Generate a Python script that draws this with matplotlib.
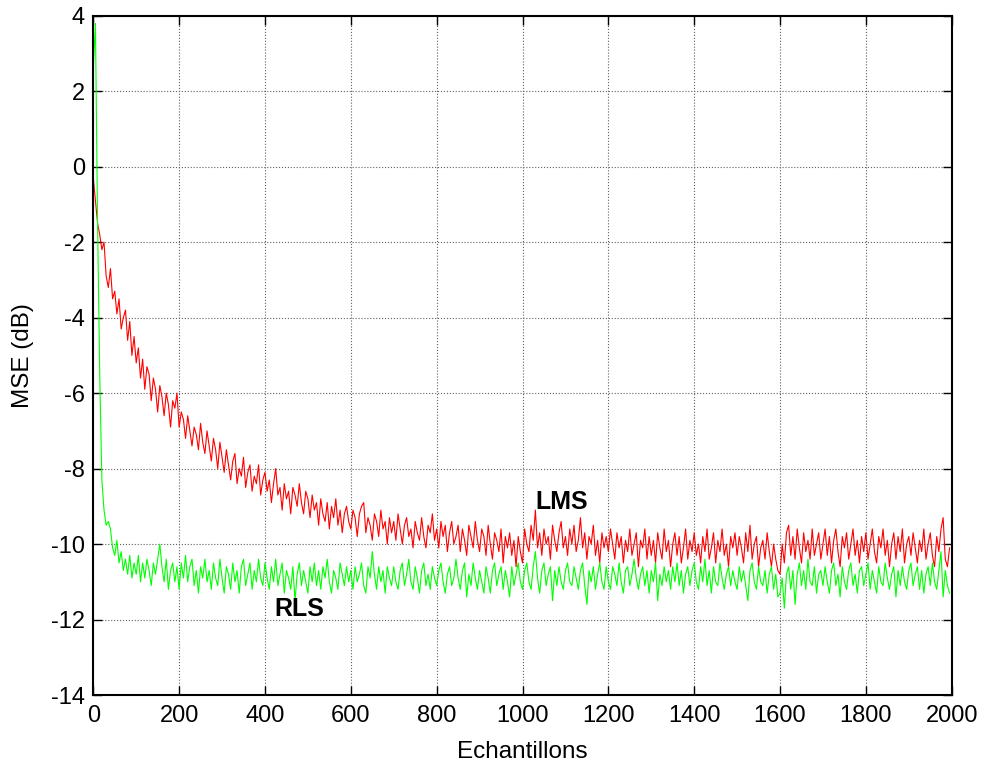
import matplotlib
matplotlib.use("Agg")
import matplotlib.pyplot as plt
import numpy as np


# MSE (dB), one value every 5 samples
SAMPLE_STEP = 5

LMS_DB = [
    -0.3, -0.9, -1.5, -1.8, -2.2, -2.0, -2.9, -3.2, -2.7, -3.5, -3.3, -3.9, -3.5, -4.3, -4.0, -3.8, -4.6, -4.1, -5.0, -4.5,
    -5.2, -4.8, -5.6, -5.1, -5.9, -5.3, -5.5, -6.2, -5.6, -5.9, -6.5, -5.8, -6.1, -6.6, -6.0, -6.3, -6.9, -6.2, -6.4, -6.0,
    -6.9, -6.5, -6.7, -7.2, -6.6, -7.0, -7.4, -6.9, -7.1, -7.5, -6.8, -7.3, -7.6, -7.0, -7.4, -7.8, -7.2, -7.5, -8.0, -7.3,
    -7.7, -8.1, -7.5, -7.9, -8.3, -7.8, -7.6, -8.4, -8.0, -8.2, -7.7, -8.5, -8.1, -7.9, -8.6, -8.2, -8.4, -7.9, -8.7, -8.3,
    -8.1, -8.6, -8.3, -8.9, -8.4, -8.0, -8.7, -8.5, -9.1, -8.4, -8.8, -8.6, -9.2, -8.5, -8.7, -9.0, -8.4, -8.9, -9.2, -8.6,
    -8.8, -9.3, -8.7, -9.1, -8.9, -9.5, -8.8, -9.2, -9.4, -8.9, -9.6, -9.0, -9.3, -8.8, -9.5, -9.1, -9.7, -9.2, -9.0, -9.4,
    -9.6, -9.1, -9.3, -9.8, -9.2, -9.0, -8.9, -9.7, -9.3, -9.5, -9.9, -9.2, -9.4, -9.8, -9.1, -9.6, -9.4, -10.0, -9.3, -9.7,
    -9.4, -9.9, -9.2, -9.6, -10.0, -9.5, -9.3, -9.8, -9.6, -10.1, -9.4, -9.7, -9.9, -9.3, -9.8, -10.1, -9.5, -9.7, -9.2, -9.9,
    -9.6, -10.1, -9.4, -9.8, -9.5, -10.2, -9.7, -9.4, -10.0, -9.8, -9.5, -10.2, -9.6, -9.9, -10.3, -9.5, -9.8, -10.1, -9.4, -9.9,
    -10.2, -9.6, -9.8, -10.3, -9.5, -10.0, -10.4, -9.7, -9.9, -10.2, -9.6, -10.5, -9.8, -10.1, -9.7, -10.3, -9.9, -10.6, -9.8, -10.2,
    -10.5, -9.6, -10.0, -10.2, -9.5, -9.9, -9.1, -10.1, -9.7, -10.3, -9.6, -10.0, -9.8, -10.4, -9.5, -9.9, -10.2, -9.7, -9.4, -10.1,
    -9.8, -10.3, -9.6, -10.0, -9.5, -10.2, -9.9, -9.3, -10.1, -9.7, -10.4, -9.8, -10.0, -9.5, -10.3, -9.9, -10.5, -9.7, -10.1, -9.8,
    -10.2, -9.6, -10.0, -10.4, -9.7, -10.1, -9.8, -10.5, -9.9, -10.2, -9.6, -10.3, -10.0, -9.7, -10.6, -9.9, -10.1, -9.6, -10.4, -9.8,
    -10.3, -9.9, -10.5, -9.7, -10.1, -10.4, -9.6, -10.2, -9.9, -10.6, -10.0, -9.7, -10.3, -9.8, -10.5, -10.1, -9.6, -10.4, -9.9, -10.2,
    -9.7, -10.3, -10.0, -10.5, -9.8, -10.2, -9.6, -10.4, -10.1, -9.7, -10.5, -9.9, -10.2, -9.6, -10.3, -10.0, -10.6, -9.8, -10.1, -9.7,
    -10.3, -9.8, -10.1, -10.5, -9.7, -10.2, -9.5, -10.4, -10.0, -9.8, -10.6, -10.1, -9.9, -10.4, -9.7, -10.2, -10.6, -10.0, -10.4, -10.7,
    -10.8, -10.0, -10.5, -9.7, -9.5, -10.3, -9.8, -10.4, -9.6, -10.1, -10.5, -9.7, -10.2, -9.9, -10.4, -9.6, -10.3, -10.0, -9.7, -10.4,
    -10.0, -9.6, -10.3, -9.8, -10.5, -9.9, -9.6, -10.2, -10.6, -9.8, -10.1, -9.7, -10.4, -10.0, -9.6, -10.3, -9.9, -10.5, -9.8, -10.2,
    -9.7, -10.4, -10.0, -9.6, -10.2, -10.5, -9.8, -10.1, -9.6, -10.3, -9.9, -10.6, -10.0, -9.7, -10.4, -9.8, -10.2, -9.6, -10.5, -10.0,
    -9.8, -10.3, -9.7, -10.1, -10.5, -9.9, -10.2, -9.6, -10.4, -10.0, -9.7, -10.3, -10.6, -9.8, -10.2, -9.6, -9.3, -10.4, -10.6, -10.1,
]

RLS_DB = [
    2.6, 3.8, -1.5, -5.5, -8.3, -9.1, -9.5, -9.4, -9.6, -10.1, -10.3, -9.9, -10.5, -10.2, -10.7, -10.4, -10.8, -10.3, -10.9, -10.5,
    -10.8, -10.3, -11.0, -10.5, -10.9, -10.4, -10.7, -11.1, -10.5, -10.8, -10.4, -10.0, -10.6, -11.0, -10.4, -11.2, -10.7, -10.5, -11.0, -10.6,
    -11.2, -10.5, -10.9, -10.3, -11.0, -10.6, -10.4, -11.1, -10.7, -11.3, -10.6, -10.9, -10.4, -11.0, -10.7, -11.2, -10.5, -10.9, -11.1, -10.4,
    -10.9, -11.3, -10.6, -10.8, -11.2, -10.5, -11.0, -10.7, -11.3, -10.6, -10.4, -11.1, -10.8, -10.5, -11.2, -10.7, -11.0, -10.4, -10.9, -11.1,
    -10.5, -10.9, -11.2, -10.6, -11.0, -10.4, -11.1, -10.8, -10.5, -11.3, -10.7, -10.9, -11.2, -10.6, -11.5, -10.8, -10.5, -11.1, -10.7, -11.0,
    -11.3, -10.6, -11.0, -10.5, -11.1, -10.7, -11.2, -10.6, -10.9, -10.4, -11.0, -11.3, -10.7, -10.9, -11.2, -10.5, -10.8, -11.1, -10.6, -11.0,
    -10.7, -11.2, -10.6, -11.0, -10.8, -10.5, -11.1, -11.3, -10.6, -10.9, -10.2, -10.8, -11.2, -10.6, -11.0, -10.7, -11.3, -10.6, -10.9, -11.1,
    -10.6, -11.0, -11.2, -10.7, -10.5, -11.1, -10.8, -10.4, -11.0, -11.2, -10.6, -10.9, -11.3, -10.7, -10.5, -11.1, -10.8, -11.2, -10.6, -10.9,
    -11.1, -10.7, -10.5, -11.0, -11.3, -10.8, -10.6, -11.1, -10.9, -10.4, -10.9, -11.2, -10.7, -10.5, -11.4, -10.8, -11.1, -10.5, -10.9, -11.2,
    -10.7, -11.0, -11.3, -10.6, -10.9, -11.3, -10.7, -10.5, -11.1, -10.8, -10.6, -11.2, -10.7, -11.0, -11.4, -10.6, -11.1, -10.8, -10.5, -11.0,
    -11.2, -10.7, -10.5, -11.0, -11.2, -10.6, -10.2, -10.9, -11.3, -10.7, -10.5, -11.1, -10.8, -10.6, -11.5, -10.7, -11.1, -10.6, -11.0, -11.2,
    -10.7, -10.5, -11.0, -11.1, -10.6, -10.9, -11.2, -10.7, -10.5, -11.1, -11.6, -10.7, -11.0, -10.6, -11.2, -10.8, -10.5, -11.0, -11.2, -10.6,
    -11.0, -11.2, -10.6, -10.8, -11.1, -10.5, -11.0, -11.3, -10.7, -10.6, -11.1, -10.8, -10.4, -10.9, -11.2, -10.8, -10.6, -11.1, -10.7, -11.3,
    -10.7, -11.0, -10.5, -11.5, -10.8, -11.1, -10.6, -11.0, -10.7, -11.2, -10.6, -11.0, -10.5, -11.1, -10.7, -11.3, -10.8, -10.6, -11.1, -10.7,
    -10.5, -11.0, -11.2, -10.6, -11.0, -10.4, -11.1, -10.7, -11.3, -10.6, -11.0, -11.1, -10.5, -10.9, -11.2, -10.8, -10.6, -11.1, -10.7, -11.0,
    -11.2, -10.6, -11.0, -10.7, -11.1, -11.5, -10.7, -10.5, -11.0, -11.2, -10.6, -11.0, -11.1, -10.7, -11.3, -10.8, -10.6, -11.2, -10.8, -11.4,
    -11.3, -10.9, -11.7, -10.8, -10.6, -11.2, -10.7, -11.6, -10.8, -10.5, -11.1, -10.7, -11.2, -10.4, -11.0, -11.1, -10.6, -11.3, -10.8, -10.7,
    -11.1, -10.6, -11.0, -11.3, -10.7, -10.5, -11.1, -10.8, -11.4, -10.6, -11.0, -11.2, -10.7, -10.5, -11.1, -10.8, -11.3, -10.7, -10.6, -11.1,
    -10.8, -10.5, -11.2, -10.7, -11.0, -11.3, -10.6, -11.0, -11.1, -10.5, -10.9, -11.2, -10.8, -10.6, -11.4, -10.7, -11.1, -10.6, -11.0, -11.2,
    -10.7, -10.5, -11.1, -10.8, -10.6, -11.2, -10.7, -11.3, -10.8, -10.6, -11.1, -10.5, -11.0, -11.2, -10.7, -10.2, -11.4, -10.7, -11.1, -11.3,
]

X_TICKS = [0, 200, 400, 600, 800, 1000, 1200, 1400, 1600, 1800, 2000]
Y_TICKS = [-14, -12, -10, -8, -6, -4, -2, 0, 2, 4]

plt.rcParams["font.family"] = ["Liberation Sans", "DejaVu Sans"]
plt.rcParams["axes.unicode_minus"] = False

fig = plt.figure(figsize=(9.84, 7.69), dpi=100)
ax = fig.add_axes([0.0948, 0.0962, 0.8724, 0.8833])

samples = np.arange(len(LMS_DB)) * SAMPLE_STEP
ax.plot(samples, LMS_DB, color="#ff0000", lw=0.8)
ax.plot(samples, RLS_DB, color="#00ff00", lw=0.8)

ax.text(1092, -8.89, "LMS", fontsize=18, fontweight="bold", ha="center", va="center")
ax.text(479, -11.72, "RLS", fontsize=18, fontweight="bold", ha="center", va="center")

ax.set_xlim(0, 2000)
ax.set_ylim(-14, 4)
ax.set_xticks(X_TICKS)
ax.set_yticks(Y_TICKS)
ax.grid(True, ls=":", color="#606060", lw=0.8)
ax.tick_params(direction="in", length=6.5, width=1, top=True, right=True, labelsize=17)
ax.tick_params(axis="x", pad=7)
ax.tick_params(axis="y", pad=6)
for spine in ax.spines.values():
    spine.set_linewidth(1.5)

ax.set_xlabel("Echantillons", fontsize=17.5, labelpad=10)
ax.set_ylabel("MSE (dB)", fontsize=17.5, labelpad=12)

fig.savefig("out.png", dpi=100)
